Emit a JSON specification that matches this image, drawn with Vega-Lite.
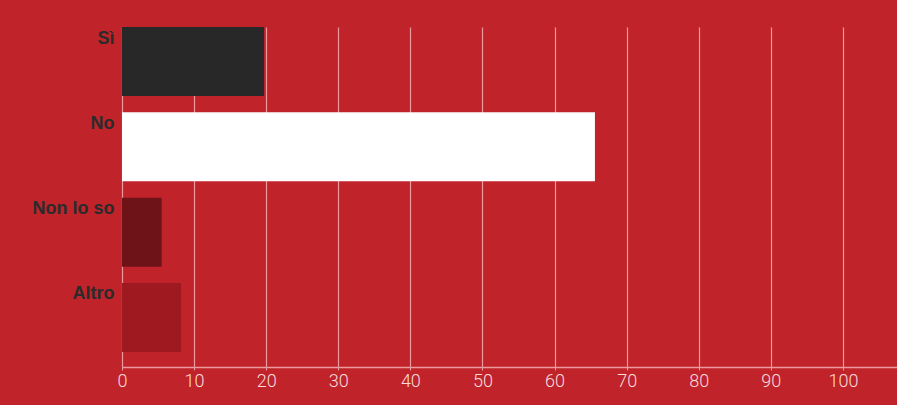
{
  "$schema": "https://vega.github.io/schema/vega-lite/v6.json",
  "autosize": "none",
  "width": 775,
  "height": 340,
  "padding": {"left": 122, "top": 27, "right": 0, "bottom": 38},
  "background": "#c0232a",
  "data": {
    "values": [
      {"risposta": "Sì", "valore": 19.7, "colore": "#282828"},
      {"risposta": "No", "valore": 65.6, "colore": "#ffffff"},
      {"risposta": "Non lo so", "valore": 5.5, "colore": "#6e1318"},
      {"risposta": "Altro", "valore": 8.2, "colore": "#9e1a20"}
    ]
  },
  "mark": {"type": "bar", "cornerRadius": 0},
  "encoding": {
    "y": {
      "field": "risposta",
      "type": "nominal",
      "sort": null,
      "scale": {"paddingInner": 0.191, "paddingOuter": 0.088, "align": 0},
      "axis": {
        "title": null,
        "domain": false,
        "ticks": false,
        "grid": false,
        "labelBaseline": "top",
        "labelAlign": "right",
        "labelPadding": 8,
        "labelOffset": -32,
        "labelFont": "Liberation Sans",
        "labelFontWeight": "bold",
        "labelFontSize": 18,
        "labelColor": "#2b2b2b"
      }
    },
    "x": {
      "field": "valore",
      "type": "quantitative",
      "scale": {"domain": [0, 107.5], "nice": false},
      "axis": {
        "title": null,
        "values": [0, 10, 20, 30, 40, 50, 60, 70, 80, 90, 100],
        "grid": true,
        "gridColor": "#ec9a9d",
        "gridWidth": 1.2,
        "domainColor": "#ec9a9d",
        "domainWidth": 1.5,
        "tickColor": "#ec9a9d",
        "tickSize": 3,
        "labelPadding": 2,
        "labelFont": "Roboto",
        "labelFontWeight": 300,
        "labelFontSize": 18,
        "labelColor": "#f8dcdd",
        "labelFlush": false
      }
    },
    "color": {"field": "colore", "type": "nominal", "scale": null, "legend": null}
  },
  "config": {"view": {"stroke": null}}
}
